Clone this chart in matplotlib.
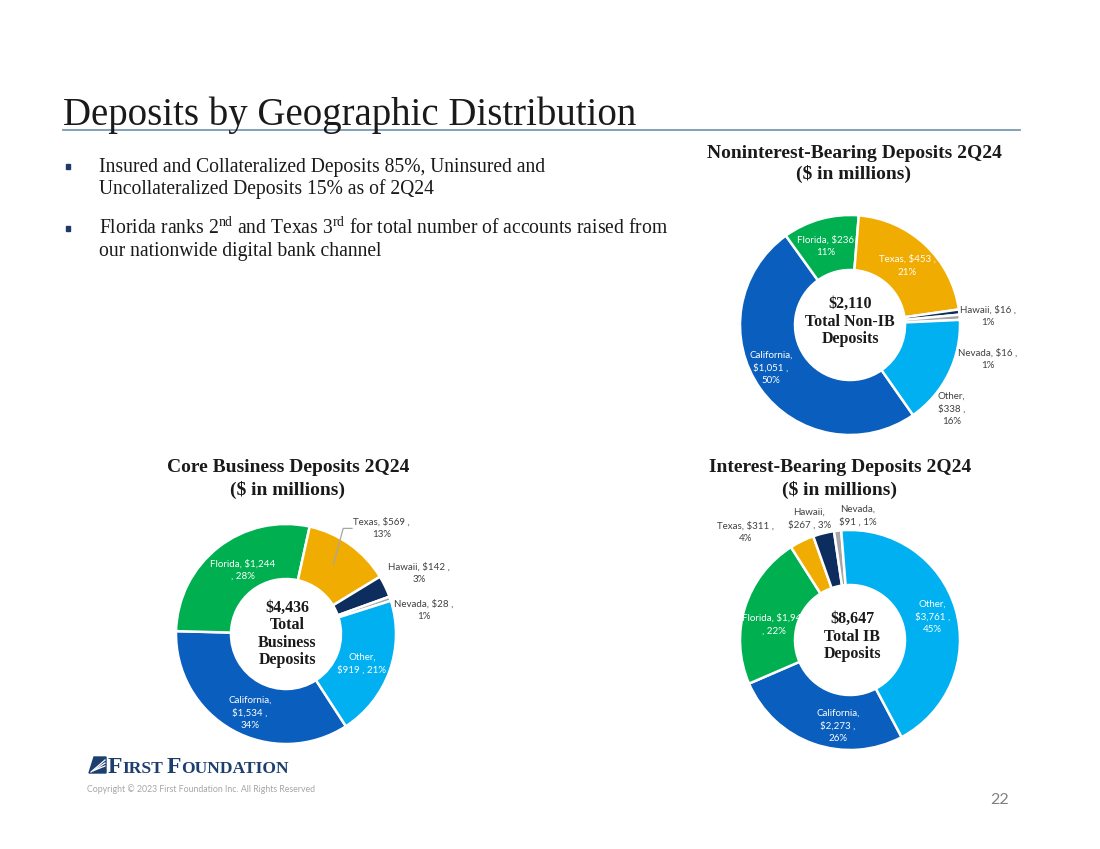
import matplotlib
matplotlib.use('Agg')
import matplotlib.pyplot as plt
from matplotlib.patches import Rectangle, Polygon

# ---------------- data ----------------
regions = ['California', 'Florida', 'Texas', 'Hawaii', 'Nevada', 'Other']

nonib_values = [1051, 236, 453, 16, 16, 338]
nonib_pcts = [50, 11, 21, 1, 1, 16]
nonib_total = 2110

core_values = [1534, 1244, 569, 142, 28, 919]
core_pcts = [34, 28, 13, 3, 1, 21]
core_total = 4436

ib_values = [2273, 1944, 311, 267, 91, 3761]
ib_pcts = [26, 22, 4, 3, 1, 45]
ib_total = 8647

page_title = 'Deposits by Geographic Distribution'
bullets = [
    ['Insured and Collateralized Deposits 85%, Uninsured and',
     'Uncollateralized Deposits 15% as of 2Q24'],
    ['Florida ranks 2$^{\\mathrm{nd}}$ and Texas 3$^{\\mathrm{rd}}$ for total number of accounts raised from',
     'our nationwide digital bank channel'],
]

# ---------------- style ----------------
colors = ['#0A5EBD', '#00B050', '#F0AC00', '#0D2D5E', '#A6A6A6', '#00B0F0']
W, H = 1100, 849
SERIF = 'Liberation Serif'
SANS = 'Lato'
plt.rcParams['mathtext.fontset'] = 'custom'
plt.rcParams['mathtext.rm'] = SERIF

fig = plt.figure(figsize=(W / 100, H / 100), dpi=100)
fig.patch.set_facecolor('white')


def fx(x):
    return x / W


def fy(y):
    return 1 - y / H


# title + rule
fig.text(fx(63), fy(125), page_title, family=SERIF, fontsize=28, color='#1a1a1a',
         va='baseline', ha='left')
fig.add_artist(plt.Line2D([fx(63), fx(1020)], [fy(130), fy(130)], color='#7A9BB0', lw=1.3))

# bullets
bullet_y = [[172, 194], [234, 256]]
for lines, ys in zip(bullets, bullet_y):
    fig.add_artist(Rectangle((fx(66), fy(ys[0] - 3)), 4 / W, 5 / H, color='#1F3A68',
                             transform=fig.transFigure))
    for ln, yy in zip(lines, ys):
        fig.text(fx(99), fy(yy), ln, family=SERIF, fontsize=14.1, color='#1a1a1a',
                 va='baseline', ha='left')


def fmt(template, name, v, p):
    return template.format(n=name, v=f'${v:,}', p=f'{p}%')


def donut(cx, cy, values, pcts, startangle, templates, offsets, text_colors,
          center_text, center_off, title, tcx, tcy, clip=None, leader=None):
    S = 330
    ax = fig.add_axes([(cx - S / 2) / W, (H - cy - S / 2) / H, S / W, S / H])
    ax.pie(values, colors=colors, startangle=startangle, counterclock=False, radius=1,
           wedgeprops=dict(width=0.5, edgecolor='white', linewidth=1.8))
    ax.set_xlim(-1.5, 1.5)
    ax.set_ylim(-1.5, 1.5)
    ax.set_aspect('equal')
    ax.axis('off')
    for i, (name, v, p) in enumerate(zip(regions, values, pcts)):
        t = ax.text(offsets[i][0], offsets[i][1], fmt(templates[i], name, v, p),
                    ha='center', va='center', family=SANS, fontsize=7,
                    color=text_colors[i], linespacing=1.5, parse_math=False)
        if clip is not None and clip[0] == i:
            r = Rectangle((clip[1], -1.5), clip[2] - clip[1], 3, transform=ax.transData)
            t.set_clip_path(r)
    if leader is not None:
        ax.plot([q[0] for q in leader], [q[1] for q in leader], color='#A6A6A6', lw=0.9)
    ax.text(center_off[0], center_off[1], center_text, ha='center', va='center',
            family=SERIF, fontweight='bold', fontsize=11.5, color='#1a1a1a',
            linespacing=1.12, parse_math=False)
    fig.text(fx(tcx), fy(tcy[0]), title[0], ha='center', va='center', family=SERIF,
             fontweight='bold', fontsize=14, color='#1a1a1a', parse_math=False)
    fig.text(fx(tcx), fy(tcy[1]), title[1], ha='center', va='center', family=SERIF,
             fontweight='bold', fontsize=14, color='#1a1a1a', parse_math=False)
    return ax


WH = 'white'
DK = '#404040'

# Noninterest-bearing
donut(850, 325, nonib_values, nonib_pcts, -55,
      ['{n},\n{v} ,\n{p}', '{n}, {v}\n{p}', '{n}, {v} ,\n{p}', '{n}, {v} ,\n{p}',
       '{n}, {v} ,\n{p}', '{n},\n{v} ,\n{p}'],
      [(-0.72, -0.39), (-0.22, 0.72), (0.52, 0.54), (1.25, 0.08), (1.25, -0.31), (0.92, -0.76)],
      [WH, WH, WH, DK, DK, DK],
      f'${nonib_total:,}\nTotal Non-IB\nDeposits', (0, 0.03),
      ['Noninterest-Bearing Deposits 2Q24', '($ in millions)'], 854, (153, 174))

# Core business
donut(286, 634, core_values, core_pcts, -57,
      ['{n},\n{v} ,\n{p}', '{n}, {v}\n, {p}', '{n}, {v} ,\n{p}', '{n}, {v} ,\n{p}',
       '{n}, {v} ,\n{p}', '{n},\n{v} , {p}'],
      [(-0.33, -0.72), (-0.39, 0.58), (0.87, 0.96), (1.21, 0.55), (1.25, 0.22), (0.69, -0.27)],
      [WH, WH, DK, DK, DK, WH],
      f'${core_total:,}\nTotal\nBusiness\nDeposits', (0.01, 0.0),
      ['Core Business Deposits 2Q24', '($ in millions)'], 288, (467, 490),
      leader=[(0.60, 0.96), (0.52, 0.96), (0.43, 0.63)])

# Interest-bearing
donut(850, 640, ib_values, ib_pcts, -62,
      ['{n},\n{v} ,\n{p}', '{n}, {v}\n, {p}', '{n}, {v} ,\n{p}', '{n},\n{v} , {p}',
       '{n},\n{v} , {p}', '{n},\n{v} ,\n{p}'],
      [(-0.11, -0.78), (-0.69, 0.14), (-0.95, 0.98), (-0.37, 1.10), (0.07, 1.13), (0.75, 0.21)],
      [WH, WH, DK, DK, DK, WH],
      f'${ib_total:,}\nTotal IB\nDeposits', (0.02, 0.03),
      ['Interest-Bearing Deposits 2Q24', '($ in millions)'], 840, (467, 490),
      clip=(1, -0.99, -0.42))

# logo
navy = '#1D3F6E'
fig.add_artist(Polygon([(fx(89), fy(773)), (fx(94), fy(757)), (fx(106), fy(757)),
                        (fx(106), fy(773))], closed=True, color=navy,
                       transform=fig.transFigure))
for k in range(3):
    fig.add_artist(plt.Line2D([fx(91 + k * 2), fx(105)], [fy(772 - k * 1), fy(760 + k * 3)],
                              color='white', lw=0.9))
renderer = fig.canvas.get_renderer()
xcur = 108
for piece, size in [('F', 17), ('IRST', 12.6), (' ', 12.6), ('F', 17), ('OUNDATION', 12.6)]:
    t = fig.text(fx(xcur), fy(773), piece, family=SERIF, fontweight='bold', fontsize=size,
                 color=navy, va='baseline', ha='left')
    bb = t.get_window_extent(renderer)
    xcur += bb.width * 0.98

fig.text(fx(87), fy(792), 'Copyright \u00a9 2023 First Foundation Inc. All Rights Reserved',
         family=SANS, fontsize=6.3, color='#A6A6A6', va='baseline', ha='left')
fig.text(fx(1000), fy(800), '22', family=SANS, fontsize=11.5, color='#808080',
         ha='center', va='center')

fig.savefig('out.png', dpi=100, facecolor='white')
